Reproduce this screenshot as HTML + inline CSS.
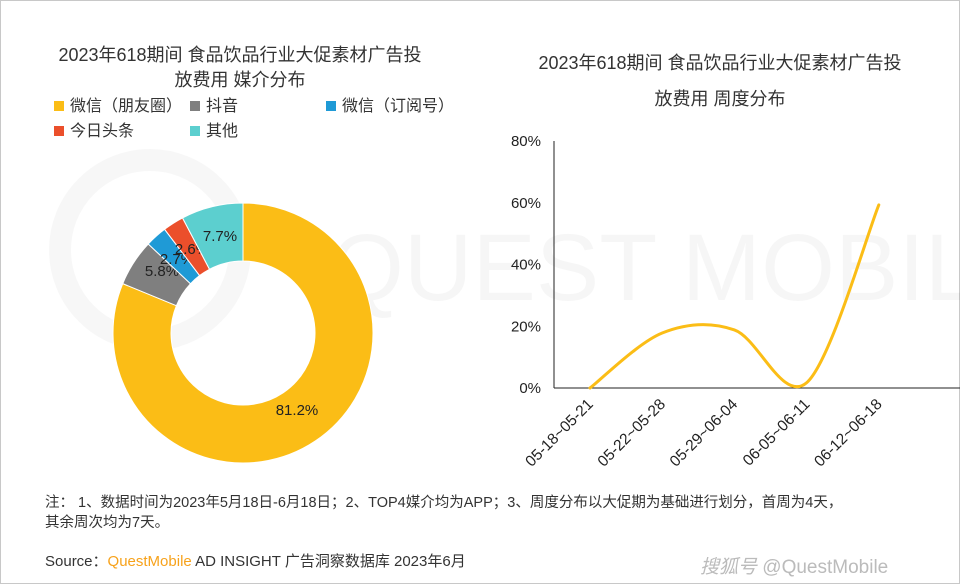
<!DOCTYPE html>
<html><head><meta charset="utf-8">
<style>
body{margin:0;width:960px;height:584px;background:#fff;overflow:hidden;font-family:"Liberation Sans","Noto Sans CJK SC",sans-serif;}
#frame{position:absolute;left:0;top:0;width:958px;height:582px;border:1px solid #c8c8c8;}
.t{position:absolute;color:#222;}
</style></head><body>
<div id="frame"></div>
<svg width="960" height="584" style="position:absolute;left:0;top:0" font-family="Liberation Sans, Noto Sans CJK SC, sans-serif">
<g opacity="0.03">
<circle cx="150" cy="250" r="90" fill="none" stroke="#000" stroke-width="22"/>
<text x="330" y="300" font-size="95" fill="#000">QUEST MOBILE</text>
</g>
<g id="donut"></g>
<g id="line"></g>
</svg>
<div class="t" style="left:30px;top:43px;width:420px;text-align:center;font-size:18px;line-height:25px;color:#333;">2023年618期间 食品饮品行业大促素材广告投<br>放费用 媒介分布</div>
<div class="t" style="left:510px;top:45px;width:420px;text-align:center;font-size:18px;line-height:36px;color:#333;">2023年618期间 食品饮品行业大促素材广告投<br>放费用 周度分布</div>
<div id="legend"></div>
<div class="t" style="left:45px;top:493px;font-size:14.5px;line-height:20px;color:#333;">注： 1、数据时间为2023年5月18日-6月18日；2、TOP4媒介均为APP；3、周度分布以大促期为基础进行划分，首周为4天，<br>其余周次均为7天。</div>
<div class="t" style="left:45px;top:550px;font-size:15px;color:#333;">Source：<span style="color:#f7a21b">QuestMobile</span> AD INSIGHT 广告洞察数据库 2023年6月</div>
<div class="t" style="left:700px;top:552px;font-size:19px;color:#bbb;font-style:italic;">搜狐号 <span style="font-style:normal">@QuestMobile</span></div>
<script>
const NS='http://www.w3.org/2000/svg';
const shareLabels=['微信（朋友圈）','抖音','微信（订阅号）','今日头条','其他'];
const shareValues=[81.2,5.8,2.7,2.6,7.7];
const shareColors=['#fbbd16','#7f7f7f','#1f9ad6','#eb4f2b','#5ccfcf'];
const weekLabels=['05-18~05-21','05-22~05-28','05-29~06-04','06-05~06-11','06-12~06-18'];
const weekValues=[0,17.8,18.8,1.7,59.3];
const yTicks=[0,20,40,60,80];
function mk(tag,attrs,parent){const e=document.createElementNS(NS,tag);for(const k in attrs)e.setAttribute(k,attrs[k]);parent.appendChild(e);return e;}
const lg=document.getElementById('legend');
const lpos=[[54,92],[190,92],[326,92],[54,117],[190,117]];
shareLabels.forEach((l,i)=>{const d=document.createElement('div');d.className='t';


d.style.cssText=`left:${lpos[i][0]}px;top:${lpos[i][1]}px;font-size:16px;color:#333;`;
d.innerHTML=`<span style="display:inline-block;width:10px;height:10px;background:${shareColors[i]};margin-right:6px;"></span>${l}`;lg.appendChild(d);});
const dg=document.getElementById('donut');const cx=243,cy=333,R=130,r=72;
const tot=shareValues.reduce((a,b)=>a+b,0);let a0=0;
const lblPos=[[297,415],[162,276],[177,264],[192,254],[220,241]];
shareValues.forEach((v,i)=>{const a1=a0+v/tot*2*Math.PI;
const p=(a,rr)=>[cx+rr*Math.sin(a),cy-rr*Math.cos(a)];const big=(a1-a0)>Math.PI?1:0;
const [x1,y1]=p(a0,R),[x2,y2]=p(a1,R),[x3,y3]=p(a1,r),[x4,y4]=p(a0,r);
const path=mk('path',{d:`M${x1},${y1}A${R},${R} 0 ${big} 1 ${x2},${y2}L${x3},${y3}A${r},${r} 0 ${big} 0 ${x4},${y4}Z`,fill:shareColors[i],stroke:'#fff','stroke-width':1},dg);


const tx=mk('text',{x:lblPos[i][0],y:lblPos[i][1],'font-size':15,fill:'#222','text-anchor':'middle'},dg);tx.textContent=v.toFixed(1)+'%';


a0=a1;});
const lgp=document.getElementById('line');
const x0=554,xEnd=960,y0=388,yTop=141,firstX=590,step=72.2;
const X=i=>firstX+i*step, Y=v=>y0-(v/80)*(y0-yTop);
mk('line',{x1:x0,y1:yTop,x2:x0,y2:y0,stroke:'#222','stroke-width':1},lgp);
mk('line',{x1:x0,y1:y0,x2:xEnd,y2:y0,stroke:'#222','stroke-width':1},lgp);
yTicks.forEach(t=>{const e=mk('text',{x:541,y:Y(t)+5,'font-size':15,fill:'#222','text-anchor':'end'},lgp);e.textContent=t+'%';

});
weekLabels.forEach((l,i)=>{const e=mk('text',{x:X(i)+4,y:y0+17,'font-size':15.5,fill:'#222','text-anchor':'end',transform:`rotate(-45 ${X(i)+4} ${y0+17})`},lgp);e.textContent=l;

});
const pts=weekValues.map((v,i)=>[X(i),Y(v)]);
let d=`M${pts[0][0]},${pts[0][1]}`;const tn=0.33;
for(let i=0;i<pts.length-1;i++){const p0=pts[i-1]||pts[i],p1=pts[i],p2=pts[i+1],p3=pts[i+2]||p2;
const c1=[p1[0]+(p2[0]-p0[0])*tn/2,p1[1]+(p2[1]-p0[1])*tn/2],c2=[p2[0]-(p3[0]-p1[0])*tn/2,p2[1]-(p3[1]-p1[1])*tn/2];
d+=`C${c1[0]},${c1[1]} ${c2[0]},${c2[1]} ${p2[0]},${p2[1]}`;}
const ln=mk('path',{d:d,fill:'none',stroke:'#fbbd16','stroke-width':3,'stroke-linecap':'round'},lgp);


</script>
</body></html>
